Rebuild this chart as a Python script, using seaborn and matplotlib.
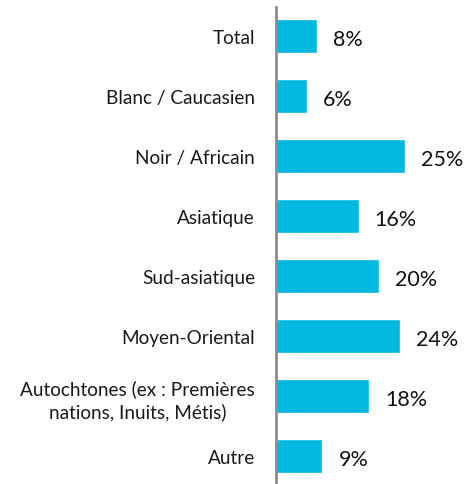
import matplotlib
matplotlib.use("Agg")
import matplotlib.pyplot as plt
import seaborn as sns
import pandas as pd

categories = [
    "Total",
    "Blanc / Caucasien",
    "Noir / Africain",
    "Asiatique",
    "Sud-asiatique",
    "Moyen-Oriental",
    "Autochtones (ex : Premières\nnations, Inuits, Métis)",
    "Autre",
]
values = [8, 6, 25, 16, 20, 24, 18, 9]

sns.set_theme(style="white")
plt.rcParams["font.family"] = ["Lato", "DejaVu Sans"]

df = pd.DataFrame({"groupe": categories, "pct": values})

fig = plt.figure(figsize=(4.70, 4.85), dpi=100)
ax = fig.add_axes([276 / 470, 0.0, 194 / 470, 1 - 8 / 485])

sns.barplot(data=df, y="groupe", x="pct", orient="h", color="#00B8E0",
            saturation=1, width=0.57, ax=ax)

ax.set_xlim(0, 194 / 5.16)
ax.set_ylim(7.467, -0.483)
ax.set_xlabel("")
ax.set_ylabel("")
ax.set_xticks([])
ax.tick_params(axis="y", length=0, pad=15, labelsize=13.7, labelcolor="#1a1a1a")
for lbl in ax.get_yticklabels():
    lbl.set_multialignment("center")
    lbl.set_linespacing(1.35)

for s in ["top", "right", "bottom"]:
    ax.spines[s].set_visible(False)
ax.spines["left"].set_color("#8c8c8c")
ax.spines["left"].set_linewidth(2)

for i, v in enumerate(values):
    ax.annotate(f"{v}%", xy=(v, i), xytext=(11.5, -2), textcoords="offset points",
                va="center", ha="left", fontsize=15.5, color="#111111")

fig.savefig("out.png", dpi=100)
